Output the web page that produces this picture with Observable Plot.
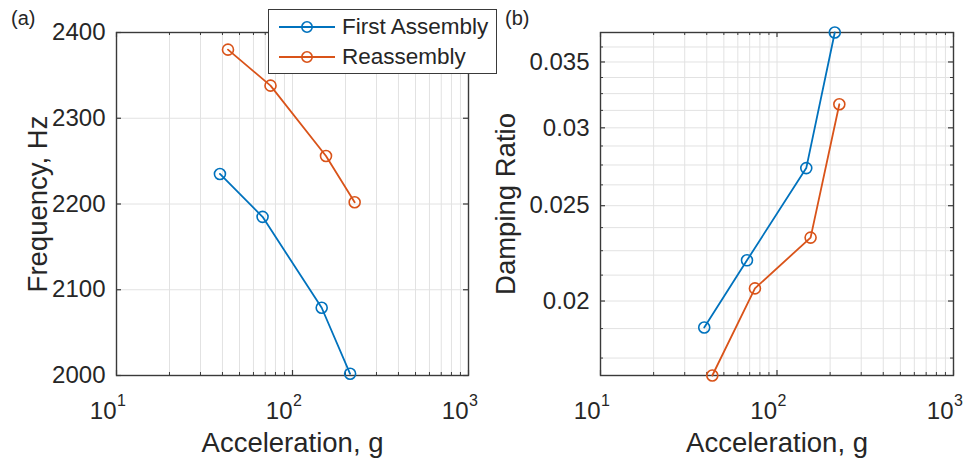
<!DOCTYPE html>
<html>
<head>
<meta charset="utf-8">
<script src="https://cdn.jsdelivr.net/npm/d3@7"></script>
<script src="https://cdn.jsdelivr.net/npm/@observablehq/plot@0.6"></script>
<style>
  body { margin: 0; background: #fff; }
  #wrap { position: relative; width: 976px; height: 461px; font-family: "Liberation Sans", Arial, sans-serif; color: #262626; }
  #left, #right { position: absolute; top: 0; }
  #left { left: 0; }
  #right { left: 488px; }
  .tag { position: absolute; top: 6px; font-size: 20px; line-height: 24px; }
  #legend { position: absolute; left: 268px; top: 9px; width: 229px; height: 65px; box-sizing: border-box;
            border: 1.3px solid #3a3a3a; background: #fff; }
  .row { position: absolute; left: 0; height: 30px; display: flex; align-items: center; font-size: 22.5px; }
  .row svg { margin-left: 10px; margin-right: 6px; }
</style>
</head>
<body>
<div id="wrap">
  <div id="left"></div>
  <div id="right"></div>
  <div class="tag" style="left:11px">(a)</div>
  <div class="tag" style="left:505px">(b)</div>
  <div id="legend"></div>
</div>
<script>
// ---- data ----
const seriesNames = ["First Assembly", "Reassembly"];
const seriesColors = ["#0072BD", "#D95319"];
const accelFirst = [38.7, 67.6, 146.5, 212.5];
const accelRe = [43, 75, 155, 225.5];
const freqFirst = [2235, 2185, 2079, 2002];
const freqRe = [2380, 2338, 2256, 2202];
const dampFirst = [0.0188, 0.0220, 0.0273, 0.0375];
const dampRe = [0.0168, 0.0206, 0.0232, 0.0317];
const xTicks = [10, 100, 1000];
const xMinorTicks = [20, 30, 40, 50, 60, 70, 80, 90, 200, 300, 400, 500, 600, 700, 800, 900];
const freqTicks = [2000, 2100, 2200, 2300, 2400];
const dampTicks = [0.02, 0.025, 0.03, 0.035];
const dampMinorTicks = [0.0175, 0.01875, 0.02125, 0.0225, 0.02375, 0.02625, 0.0275, 0.02875,
                        0.03125, 0.0325, 0.03375, 0.03625, 0.0375];

const series = [
  accelFirst.map((a, i) => ({a, f: freqFirst[i], d: dampFirst[i], s: seriesNames[0]})),
  accelRe.map((a, i) => ({a, f: freqRe[i], d: dampRe[i], s: seriesNames[1]}))
];

const H = 461, MT = 32, MB = 86;
const FRAME = "#3a3a3a";
const GRID = "#e2e2e2";

function panel({width, marginLeft, marginRight, yKey, yType, yDomain, yTicks, yMinor, yLabel, labelDx}) {
  const innerW = width - marginLeft - marginRight;
  const innerH = H - MT - MB;
  const marks = [
    Plot.ruleX(xMinorTicks, {stroke: GRID, strokeWidth: 1}),
    Plot.ruleX(xTicks.slice(1, -1), {stroke: GRID, strokeWidth: 1}),
    yMinor.length ? Plot.ruleY(yMinor, {stroke: GRID, strokeWidth: 1}) : null,
    Plot.ruleY(yTicks, {stroke: GRID, strokeWidth: 1}),
    // inward ticks
    Plot.tickX(xTicks, {x: d => d, insetTop: innerH - 5, stroke: FRAME, strokeWidth: 1.2}),
    Plot.tickX(xTicks, {x: d => d, insetBottom: innerH - 5, stroke: FRAME, strokeWidth: 1.2}),
    Plot.tickX(xMinorTicks, {x: d => d, insetTop: innerH - 3, stroke: FRAME, strokeWidth: 1}),
    Plot.tickX(xMinorTicks, {x: d => d, insetBottom: innerH - 3, stroke: FRAME, strokeWidth: 1}),
    Plot.tickY(yTicks, {y: d => d, insetRight: innerW - 5, stroke: FRAME, strokeWidth: 1.2}),
    Plot.tickY(yTicks, {y: d => d, insetLeft: innerW - 5, stroke: FRAME, strokeWidth: 1.2}),
    yMinor.length ? Plot.tickY(yMinor, {y: d => d, insetRight: innerW - 3, stroke: FRAME, strokeWidth: 1}) : null,
    yMinor.length ? Plot.tickY(yMinor, {y: d => d, insetLeft: innerW - 3, stroke: FRAME, strokeWidth: 1}) : null,
    Plot.frame({stroke: FRAME, strokeWidth: 1.4}),
    // y tick labels
    Plot.axisY(yTicks, {tickSize: 0, tickPadding: 11, fontSize: 24, label: null, tickFormat: d => String(d)}),
    // x tick labels 10^n
    Plot.text(xTicks, {x: d => d, text: () => "10", frameAnchor: "bottom", textAnchor: "end", lineAnchor: "top", dy: 26, fontSize: 24, fill: "#262626"}),
    Plot.text(xTicks, {x: d => d, text: d => String(Math.round(Math.log10(d))), frameAnchor: "bottom", textAnchor: "start", lineAnchor: "top", dy: 19, dx: 0.5, fontSize: 16, fill: "#262626"}),
    // axis titles
    Plot.text(["Acceleration, g"], {frameAnchor: "bottom", textAnchor: "middle", lineAnchor: "top", dy: 57, fontSize: 27.5, fill: "#262626"}),
    Plot.text([yLabel], {frameAnchor: "left", rotate: -90, textAnchor: "middle", lineAnchor: "top", dx: labelDx, fontSize: 27.5, fill: "#262626"}),
    // data
    ...series.map((s, i) => Plot.line(s, {x: "a", y: yKey, stroke: seriesColors[i], strokeWidth: 1.8})),
    ...series.map((s, i) => Plot.dot(s, {x: "a", y: yKey, r: 5.5, stroke: seriesColors[i], strokeWidth: 1.6, fill: "none"}))
  ].filter(Boolean);
  return Plot.plot({
    width, height: H,
    marginLeft, marginRight, marginTop: MT, marginBottom: MB,
    style: {fontFamily: '"Liberation Sans", Arial, sans-serif', color: "#262626", background: "transparent", overflow: "visible"},
    x: {type: "log", domain: [10, 1000], axis: null},
    y: {type: yType, domain: yDomain, axis: null},
    marks
  });
}

document.getElementById("left").appendChild(panel({
  width: 488, marginLeft: 116, marginRight: 20,
  yKey: "f", yType: "linear", yDomain: [freqTicks[0], freqTicks[freqTicks.length - 1]],
  yTicks: freqTicks, yMinor: [], yLabel: "Frequency, Hz", labelDx: -89
}));

document.getElementById("right").appendChild(panel({
  width: 488, marginLeft: 112, marginRight: 23,
  yKey: "d", yType: "log", yDomain: d3.extent([...dampFirst, ...dampRe]),
  yTicks: dampTicks, yMinor: dampMinorTicks, yLabel: "Damping Ratio", labelDx: -105
}));

// legend
const legend = document.getElementById("legend");
seriesNames.forEach((name, i) => {
  const row = document.createElement("div");
  row.className = "row";
  row.style.top = (i === 0 ? 2 : 31.5) + "px";
  row.innerHTML = `<svg width="57" height="14"><line x1="0" x2="56" y1="7" y2="7" stroke="${seriesColors[i]}" stroke-width="1.8"/>` +
    `<circle cx="28" cy="7" r="5.2" fill="none" stroke="${seriesColors[i]}" stroke-width="1.6"/></svg><span>${name}</span>`;
  legend.appendChild(row);
});
</script>
</body>
</html>
